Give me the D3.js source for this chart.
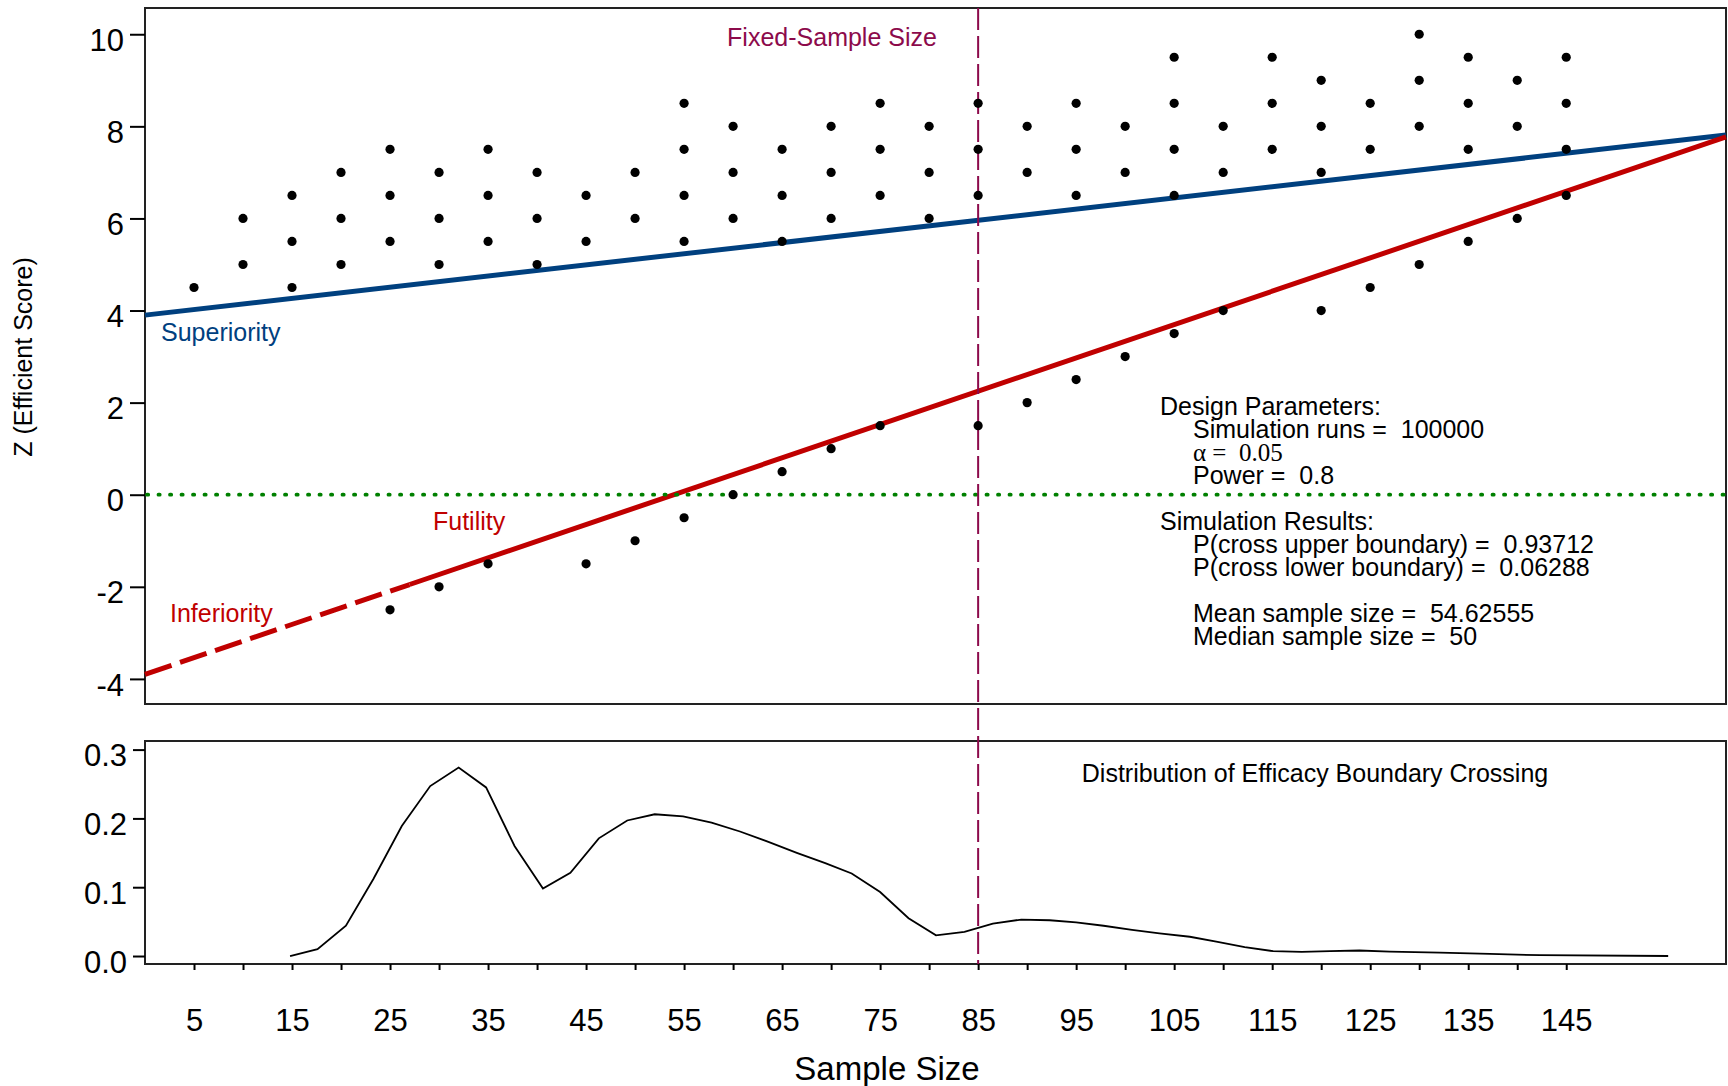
<!DOCTYPE html>
<html><head><meta charset="utf-8">
<script src="https://cdn.jsdelivr.net/npm/d3@7"></script>
<style>
body{margin:0;background:#fff}
svg{display:block}
text{font-family:"Liberation Sans",Arial,sans-serif}
</style>
</head><body>
<svg id="chart" width="1728" height="1086"></svg>
<script>
// ---------- data ----------
const sampleSizes = [5,10,15,20,25,30,35,40,45,50,55,60,65,70,75,80,85,90,95,100,105,110,115,120,125,130,135,140,145];
const upperScores = [[4.5],[6,5],[6.5,5.5,4.5],[7,6,5],[7.5,6.5,5.5],[7,6,5],[7.5,6.5,5.5],[7,6,5],[6.5,5.5],[7,6],
  [8.5,7.5,6.5,5.5],[8,7,6],[7.5,6.5,5.5],[8,7,6],[8.5,7.5,6.5],[8,7,6],[8.5,7.5,6.5],[8,7],[8.5,7.5,6.5],[8,7],
  [9.5,8.5,7.5,6.5],[8,7],[9.5,8.5,7.5],[9,8,7],[8.5,7.5],[10,9,8],[9.5,8.5,7.5],[9,8],[9.5,8.5,7.5]];
const lowerScores = [null,null,null,null,-2.5,-2,-1.5,null,-1.5,-1,-0.5,0,0.5,1,1.5,null,1.5,2,2.5,3,3.5,4,null,4,4.5,5,5.5,6,6.5];

const superiorityN = [0, 161.3];
const superiorityZ = [3.9, 7.81];
const inferiorityN = [0, 27];
const inferiorityZ = [-3.9, -1.95];
const futilityN = [27, 161.3];
const futilityZ = [-1.95, 7.77];
const fixedSampleSize = 85;

const distN = [14.8,17.6,20.5,23.3,26.2,29.1,32.0,34.8,37.7,40.6,43.4,46.3,49.2,52.0,54.9,57.8,60.7,63.6,66.5,69.4,72.1,75.0,77.9,80.7,83.6,86.5,89.4,92.3,95.0,97.8,100.7,103.5,106.6,109.3,112.2,115.1,118.0,120.9,123.9,127.0,132.1,137.2,142.3,155.4];
const distP = [0.000,0.010,0.044,0.112,0.189,0.247,0.274,0.245,0.160,0.098,0.121,0.171,0.197,0.206,0.203,0.194,0.181,0.166,0.150,0.135,0.120,0.093,0.055,0.030,0.035,0.047,0.053,0.052,0.049,0.044,0.038,0.033,0.028,0.021,0.013,0.007,0.006,0.007,0.008,0.0065,0.0048,0.003,0.0012,0.000];

const zTicks = [-4,-2,0,2,4,6,8,10];
const zTickLabels = ["-4","-2","0","2","4","6","8","10"];
const pTicks = [0.0,0.1,0.2,0.3];
const pTickLabels = ["0.0","0.1","0.2","0.3"];
const nTicks = [5,10,15,20,25,30,35,40,45,50,55,60,65,70,75,80,85,90,95,100,105,110,115,120,125,130,135,140,145];
const nTickLabels = ["5","","15","","25","","35","","45","","55","","65","","75","","85","","95","","105","","115","","125","","135","","145"];

const designLines = ["Simulation runs =  100000", "α =  0.05", "Power =  0.8"];
const resultLines = ["P(cross upper boundary) =  0.93712", "P(cross lower boundary) =  0.06288", "", "Mean sample size =  54.62555", "Median sample size =  50"];

// ---------- layout ----------
const L = 145, R = 1726;
const topT = 8, topB = 704;
const botT = 741, botB = 964;
const BLUE = "#00407f", RED = "#c00000", MAROON = "#8c0a4b", GREEN = "#008000";
const FONT = '"Liberation Sans", Arial, sans-serif';

const svg = d3.select("#chart");
const x = d3.scaleLinear().domain([0, 161.3]).range([L, R]);
const yZ = d3.scaleLinear().domain([-4.545, 10.57]).range([topB, topT]);
const yP = d3.scaleLinear().domain([-0.0116, 0.3125]).range([botB, botT]);

// frames
svg.append("rect").attr("x", L).attr("y", topT).attr("width", R - L).attr("height", topB - topT)
  .attr("fill", "none").attr("stroke", "#222").attr("stroke-width", 2);
svg.append("rect").attr("x", L).attr("y", botT).attr("width", R - L).attr("height", botB - botT)
  .attr("fill", "none").attr("stroke", "#222").attr("stroke-width", 2);

// y axis top
const gZ = svg.append("g").attr("transform", `translate(${L},0)`)
  .call(d3.axisLeft(yZ).tickValues(zTicks).tickSize(15).tickPadding(6).tickFormat((d, i) => zTickLabels[i]));
gZ.select(".domain").remove();
gZ.selectAll(".tick line").attr("stroke", "#000").attr("stroke-width", 2);
gZ.selectAll(".tick text").attr("font-size", 31).attr("dy", "0.52em").attr("fill", "#000").style("font-family", FONT);

// y axis bottom
const gP = svg.append("g").attr("transform", `translate(${L},0)`)
  .call(d3.axisLeft(yP).tickValues(pTicks).tickSize(12).tickPadding(6).tickFormat((d, i) => pTickLabels[i]));
gP.select(".domain").remove();
gP.selectAll(".tick line").attr("stroke", "#000").attr("stroke-width", 2);
gP.selectAll(".tick text").attr("font-size", 31).attr("dy", "0.52em").attr("fill", "#000").style("font-family", FONT);

// x axis bottom
const gN = svg.append("g").attr("transform", `translate(0,${botB})`)
  .call(d3.axisBottom(x).tickValues(nTicks).tickSize(6).tickPadding(50)
    .tickFormat((d, i) => nTickLabels[i]));
gN.select(".domain").remove();
gN.selectAll(".tick line").attr("stroke", "#000").attr("stroke-width", 2);
gN.selectAll(".tick text").attr("font-size", 31).attr("dy", "0.35em").attr("fill", "#000").style("font-family", FONT);

// axis titles
svg.append("text").attr("transform", "translate(32,357) rotate(-90)")
  .attr("text-anchor", "middle").attr("font-size", 25).attr("fill", "#000").text("Z (Efficient Score)");
svg.append("text").attr("x", 887).attr("y", 1080).attr("text-anchor", "middle")
  .attr("font-size", 33).attr("fill", "#000").text("Sample Size");

// boundaries
const line = d3.line().x(d => x(d[0])).y(d => yZ(d[1]));
svg.append("path").datum(d3.zip(superiorityN, superiorityZ)).attr("d", line)
  .attr("fill", "none").attr("stroke", BLUE).attr("stroke-width", 5);
svg.append("path").datum(d3.zip(inferiorityN, inferiorityZ)).attr("d", line)
  .attr("fill", "none").attr("stroke", RED).attr("stroke-width", 5).attr("stroke-dasharray", "28,9");
svg.append("path").datum(d3.zip(futilityN, futilityZ)).attr("d", line)
  .attr("fill", "none").attr("stroke", RED).attr("stroke-width", 5);

// zero line
svg.append("line").attr("x1", L + 2).attr("x2", R).attr("y1", yZ(0)).attr("y2", yZ(0))
  .attr("stroke", GREEN).attr("stroke-width", 3.8).attr("stroke-linecap", "round")
  .attr("stroke-dasharray", "1.2,10.3");

// fixed sample size line
svg.append("line").attr("x1", x(fixedSampleSize)).attr("x2", x(fixedSampleSize))
  .attr("y1", topT).attr("y2", botB)
  .attr("stroke", MAROON).attr("stroke-width", 2).attr("stroke-dasharray", "22,6");

// dots
const pts = [];
sampleSizes.forEach((n, i) => {
  upperScores[i].forEach(z => pts.push([n, z]));
  if (lowerScores[i] !== null) pts.push([n, lowerScores[i]]);
});
svg.append("g").selectAll("circle").data(pts).join("circle")
  .attr("cx", d => x(d[0])).attr("cy", d => yZ(d[1])).attr("r", 4.6).attr("fill", "#000");

// labels
svg.append("text").attr("x", 832).attr("y", 46).attr("text-anchor", "middle")
  .attr("font-size", 25).attr("fill", MAROON).text("Fixed-Sample Size");
svg.append("text").attr("x", 161).attr("y", 341).attr("font-size", 25).attr("fill", BLUE).text("Superiority");
svg.append("text").attr("x", 433).attr("y", 530).attr("font-size", 25).attr("fill", RED).text("Futility");
svg.append("text").attr("x", 170).attr("y", 622).attr("font-size", 25).attr("fill", RED).text("Inferiority");

// info text block
const info = svg.append("g").attr("fill", "#000").attr("font-size", 25);
info.append("text").attr("x", 1160).attr("y", 415).text("Design Parameters:");
designLines.forEach((t, i) => {
  const tx = info.append("text").attr("x", 1193).attr("y", 438.3 + i * 23).attr("xml:space", "preserve").text(t);
  if (t.startsWith("α")) tx.style("font-family", '"Liberation Serif", "Times New Roman", serif').attr("font-size", 25);
});
info.append("text").attr("x", 1160).attr("y", 530).text("Simulation Results:");
resultLines.forEach((t, i) => {
  if (t) info.append("text").attr("x", 1193).attr("y", 553.3 + i * 23).attr("xml:space", "preserve").text(t);
});

// distribution curve
svg.append("path").datum(d3.zip(distN, distP))
  .attr("d", d3.line().x(d => x(d[0])).y(d => yP(d[1])))
  .attr("fill", "none").attr("stroke", "#000").attr("stroke-width", 1.8);
svg.append("text").attr("x", 1315).attr("y", 782).attr("text-anchor", "middle")
  .attr("font-size", 25).attr("fill", "#000").text("Distribution of Efficacy Boundary Crossing");
</script>
</body></html>
